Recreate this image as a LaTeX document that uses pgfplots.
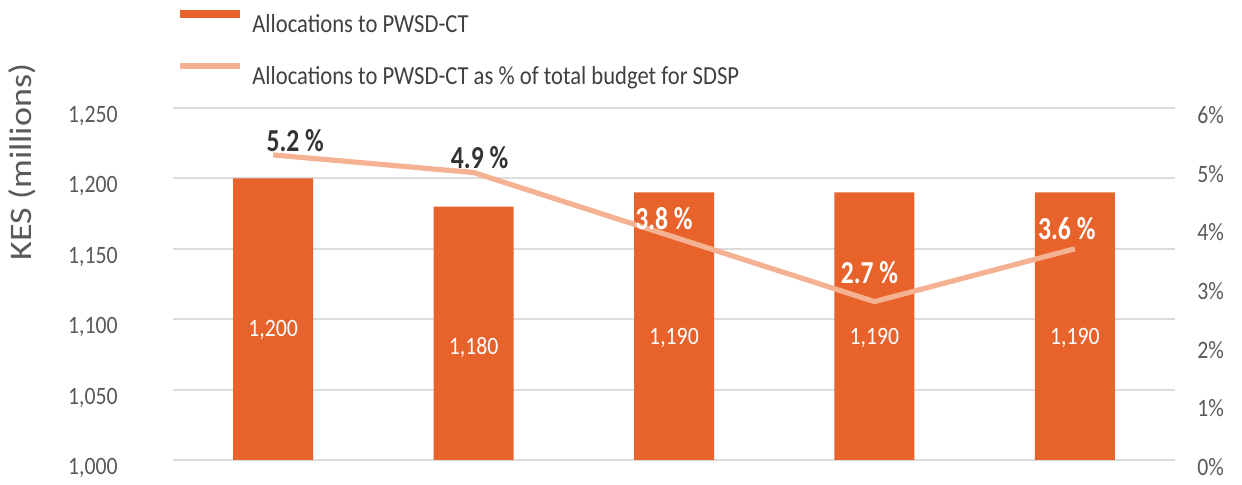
\documentclass[border=0pt]{standalone}
\usepackage{pgfplots}
\pgfplotsset{compat=1.18}
\usepackage{fontspec}
\setmainfont{Carlito}
\newfontfamily\tickfont{Carlito}[FakeStretch=0.87]
\newfontfamily\labfont{Carlito}[FakeStretch=0.8]
\definecolor{barcol}{HTML}{E8622C}
\definecolor{linecol}{HTML}{F4B292}
\definecolor{gridcol}{HTML}{DCDCDC}
\definecolor{tickcol}{HTML}{595959}
\definecolor{legcol}{HTML}{404040}
\begin{document}
\begin{tikzpicture}
\useasboundingbox (-86.5pt,-12.5pt) rectangle (534.5pt,230pt);
\begin{axis}[
  at={(0pt,0pt)}, anchor=south west,
  scale only axis, width=501pt, height=176pt,
  xmin=-0.5, xmax=4.5, ymin=1000, ymax=1250,
  ytick={1000,1050,1100,1150,1200,1250},
  yticklabels={{1,000},{1,050},{1,100},{1,150},{1,200},{1,250}},
  xtick=\empty,
  axis line style={draw=none}, tick style={draw=none},
  ymajorgrids, grid style={gridcol, line width=1pt},
  yticklabel style={font=\tickfont\fontsize{12.5}{14}\selectfont, text=tickcol, anchor=east, inner sep=0pt, xshift=-27.5pt, yshift=-4pt},
  clip=false,
]
\addplot[ybar, bar width=40pt, fill=barcol, draw=none] coordinates {(0,1200) (1,1180) (2,1190) (3,1190) (4,1190)};
\node[text=white, font=\tickfont\fontsize{12.5}{14}\selectfont] at (axis cs:0,1092) {1,200};
\node[text=white, font=\tickfont\fontsize{12.5}{14}\selectfont] at (axis cs:1,1080) {1,180};
\node[text=white, font=\tickfont\fontsize{12.5}{14}\selectfont] at (axis cs:2,1087) {1,190};
\node[text=white, font=\tickfont\fontsize{12.5}{14}\selectfont] at (axis cs:3,1087) {1,190};
\node[text=white, font=\tickfont\fontsize{12.5}{14}\selectfont] at (axis cs:4,1087) {1,190};
\end{axis}
\begin{axis}[
  at={(0pt,0pt)}, anchor=south west,
  scale only axis, width=501pt, height=176pt,
  xmin=-0.5, xmax=4.5, ymin=0, ymax=6,
  axis y line*=right, axis x line=none,
  y axis line style={draw=none}, ytick style={draw=none},
  ytick={0,1,2,3,4,5,6},
  yticklabels={0\%,1\%,2\%,3\%,4\%,5\%,6\%},
  yticklabel style={font=\tickfont\fontsize{12.5}{14}\selectfont, text=tickcol, anchor=west, inner sep=0pt, xshift=11pt, yshift=-3.5pt},
  clip=false,
]
\addplot[linecol, line width=2.6pt, mark=none] coordinates {(0,5.2) (1,4.9) (2,3.8) (3,2.7) (4,3.6)};
\node[text=black!80, font=\labfont\bfseries\fontsize{16}{18}\selectfont] at (axis cs:0.11,5.45) {5.2 \%};
\node[text=black!80, font=\labfont\bfseries\fontsize{16}{18}\selectfont] at (axis cs:1.03,5.15) {4.9 \%};
\node[text=white, font=\labfont\bfseries\fontsize{16}{18}\selectfont] at (axis cs:1.95,4.12) {3.8 \%};
\node[text=white, font=\labfont\bfseries\fontsize{16}{18}\selectfont] at (axis cs:2.975,3.20) {2.7 \%};
\node[text=white, font=\labfont\bfseries\fontsize{16}{18}\selectfont] at (axis cs:3.96,3.95) {3.6 \%};
\end{axis}
% legend
\fill[barcol] (3.5pt,221pt) rectangle (33.5pt,225pt);
\node[anchor=west, inner sep=0pt, text=legcol, font=\tickfont\fontsize{13}{15}\selectfont] at (39.5pt,218pt) {Allocations to PWSD-CT};
\draw[linecol, line width=2.6pt] (3.5pt,197pt) -- (33.5pt,197pt);
\node[anchor=west, inner sep=0pt, text=legcol, font=\tickfont\fontsize{13}{15}\selectfont] at (39.5pt,191pt) {Allocations to PWSD-CT as \% of total budget for SDSP};
% y label
\node[rotate=90, text=tickcol, font=\fontsize{18}{20}\selectfont] at (-75.5pt,149pt) {\scalebox{1}[0.87]{KES (millions)}};
\end{tikzpicture}
\end{document}
